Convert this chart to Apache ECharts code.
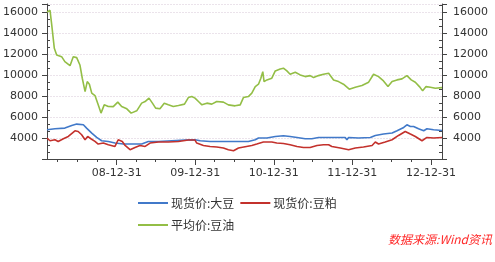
<!DOCTYPE html>
<html><head><meta charset="utf-8">
<script src="https://cdn.jsdelivr.net/npm/echarts@6/dist/echarts.min.js"></script>
<style>html,body{margin:0;padding:0;background:#fff}#c{width:495px;height:262px}</style>
</head><body><div id="c"></div>
<script>
// 现货价:大豆
const soyDates = ['2008-02-11','2008-03-19','2008-05-04','2008-06-05','2008-06-28','2008-07-29','2008-08-13','2008-09-06','2008-09-29','2008-10-22','2008-11-22','2008-12-23','2009-01-31','2009-03-11','2009-04-26','2009-05-27','2009-07-13','2009-09-13','2009-11-14','2009-12-30','2010-01-23','2010-03-10','2010-05-11','2010-07-12','2010-09-04','2010-10-06','2010-10-21','2010-11-29','2011-01-07','2011-02-14','2011-03-17','2011-04-18','2011-05-26','2011-06-26','2011-07-27','2011-09-12','2011-10-13','2011-11-28','2011-12-06','2011-12-14','2012-01-29','2012-03-24','2012-04-16','2012-05-24','2012-07-03','2012-07-26','2012-08-26','2012-09-10','2012-09-26','2012-10-11','2012-11-03','2012-11-27','2012-12-12','2013-01-12','2013-02-20'];
const soyValues = [4790,4886,4952,5200,5333,5267,4952,4476,4057,3743,3676,3524,3429,3429,3429,3676,3676,3743,3810,3838,3743,3676,3676,3676,3676,3838,4000,4000,4152,4219,4152,4057,3933,3933,4057,4057,4057,4057,3838,4057,4000,4057,4248,4381,4476,4695,5010,5267,5105,5105,4886,4695,4886,4790,4724];
// 现货价:豆粕
const mealDates = ['2008-02-11','2008-02-25','2008-03-19','2008-04-03','2008-04-27','2008-05-20','2008-06-20','2008-07-05','2008-07-21','2008-08-06','2008-08-18','2008-09-02','2008-09-21','2008-10-06','2008-10-30','2008-11-22','2008-12-23','2009-01-07','2009-01-26','2009-02-08','2009-03-03','2009-03-26','2009-04-18','2009-05-12','2009-06-04','2009-07-13','2009-08-28','2009-10-14','2009-11-29','2009-12-30','2010-01-07','2010-02-07','2010-03-10','2010-04-10','2010-05-11','2010-06-03','2010-06-27','2010-07-20','2010-08-20','2010-09-20','2010-10-13','2010-11-13','2010-12-22','2011-01-14','2011-02-14','2011-03-17','2011-04-18','2011-05-18','2011-06-18','2011-07-20','2011-08-19','2011-09-12','2011-09-27','2011-11-05','2011-12-14','2012-01-14','2012-02-21','2012-04-01','2012-04-16','2012-05-01','2012-06-01','2012-07-03','2012-08-02','2012-09-02','2012-09-26','2012-10-19','2012-11-19','2012-12-12','2013-01-12','2013-02-20'];
const mealValues = [4000,3743,3838,3676,3933,4152,4695,4629,4314,3838,4152,3933,3676,3429,3524,3362,3200,3838,3676,3295,2886,3105,3295,3200,3524,3619,3619,3676,3810,3810,3524,3295,3200,3143,3048,2886,2790,3048,3171,3295,3429,3619,3619,3524,3486,3362,3200,3105,3105,3295,3362,3362,3200,3048,2886,3048,3143,3295,3619,3429,3619,3838,4248,4629,4381,4152,3743,4057,4000,4057];
// 平均价:豆油
const oilDates = ['2008-02-11','2008-02-25','2008-03-04','2008-03-11','2008-03-16','2008-03-27','2008-04-19','2008-05-04','2008-05-28','2008-06-12','2008-06-28','2008-07-13','2008-07-24','2008-08-06','2008-08-16','2008-08-26','2008-09-06','2008-09-21','2008-10-06','2008-10-19','2008-11-03','2008-11-22','2008-12-15','2009-01-05','2009-01-23','2009-02-16','2009-03-08','2009-04-03','2009-04-26','2009-05-12','2009-05-30','2009-06-15','2009-06-30','2009-07-20','2009-08-09','2009-08-28','2009-09-20','2009-10-14','2009-11-11','2009-11-29','2009-12-15','2009-12-30','2010-01-15','2010-01-31','2010-02-23','2010-03-18','2010-04-10','2010-05-11','2010-06-03','2010-07-04','2010-07-28','2010-08-12','2010-09-04','2010-09-20','2010-10-06','2010-10-21','2010-11-01','2010-11-10','2010-11-16','2010-11-29','2010-12-22','2011-01-07','2011-01-30','2011-02-14','2011-03-02','2011-03-17','2011-04-10','2011-05-03','2011-05-26','2011-06-18','2011-07-04','2011-07-27','2011-08-19','2011-09-12','2011-10-05','2011-10-28','2011-11-20','2011-12-17','2012-01-14','2012-02-14','2012-03-16','2012-04-08','2012-05-01','2012-05-24','2012-06-14','2012-07-03','2012-07-26','2012-08-18','2012-09-10','2012-09-30','2012-10-19','2012-11-07','2012-11-22','2012-12-08','2012-12-28','2013-01-20','2013-02-20'];
const oilValues = [16030,16200,14800,13500,12570,11930,11770,11300,10910,11770,11680,10980,9710,8440,9390,9140,8286,8057,7171,6381,7170,7010,7000,7430,7010,6790,6381,6600,7333,7486,7810,7333,6857,6790,7333,7171,7010,7105,7238,7867,7962,7810,7486,7171,7333,7238,7486,7429,7171,7076,7171,7867,7962,8286,8914,9143,9714,10343,9391,9552,9714,10410,10600,10667,10410,10095,10286,10029,9867,9962,9771,9962,10095,10191,9552,9391,9143,8667,8857,9010,9333,10095,9867,9457,8914,9391,9552,9648,9962,9552,9333,8914,8505,8914,8857,8762,8819];

const seriesNames = ['现货价:大豆','现货价:豆粕','平均价:豆油'];
const xTickDates = ['2008-12-31','2009-12-31','2010-12-31','2011-12-31','2012-12-31'];
const xTickLabels = ['08-12-31','09-12-31','10-12-31','11-12-31','12-12-31'];
const xMinorDates = ['2008-03-31','2008-06-30','2008-09-30','2009-03-31','2009-06-30','2009-09-30','2010-03-31','2010-06-30','2010-09-30','2011-03-31','2011-06-30','2011-09-30','2012-03-31','2012-06-30','2012-09-30'];
const xRange = ['2008-02-11','2013-02-20'];
const yRange = [2000, 16800];
const yStep = 2000;

const ts = s => Date.parse(s + 'T00:00:00Z');
const pairs = (d, v) => d.map((s, i) => [ts(s), v[i]]);
const xMajor = xTickDates.map(ts);
const xMinor = xMinorDates.map(ts);
const yMinor = [];
for (let v = yRange[0]; v < yRange[1]; v += yStep) {
  [v + yStep / 3, v + 2 * yStep / 3].forEach(m => { if (m < yRange[1]) yMinor.push(m); });
}
const axisColor = '#444';
const labelFont = { fontSize: 11, color: '#333', fontFamily: 'DejaVu Sans' };

const yMain = (pos, margin, split) => ({
  type: 'value', position: pos, min: yRange[0], max: yRange[1], interval: yStep,
  axisLine: { show: true, lineStyle: { color: axisColor, width: 1 } },
  axisTick: { show: true, length: 5, lineStyle: { color: axisColor } },
  axisLabel: Object.assign({ margin: margin, formatter: v => (v % yStep === 0 && v > yRange[0]) ? String(v) : '' }, labelFont),
  splitLine: { show: split, lineStyle: { color: '#ebe3eb', width: 1, type: [2, 1] } }
});
const yOver = (pos) => ({
  type: 'value', position: pos, min: yRange[0], max: yRange[1],
  axisLine: { show: false },
  axisTick: { show: true, inside: true, length: 3, customValues: yMinor, lineStyle: { color: axisColor } },
  axisLabel: { show: false }, splitLine: { show: false }
});

const colors = ['#4179c9', '#c3312c', '#93be46'];
const chart = echarts.init(document.getElementById('c'));
chart.setOption({
  animation: false,
  color: colors,
  grid: { left: 47, right: 53, top: 4, bottom: 103 },
  xAxis: [
    { type: 'value', position: 'bottom', min: ts(xRange[0]), max: ts(xRange[1]),
      axisLine: { lineStyle: { color: axisColor, width: 1 } },
      axisTick: { show: true, length: 6, customValues: xMajor, lineStyle: { color: axisColor } },
      axisLabel: Object.assign({ margin: 9, customValues: xMajor,
        formatter: v => { let bi = 0, bd = Infinity; xMajor.forEach((m, i) => { const d = Math.abs(m - v); if (d < bd) { bd = d; bi = i; } }); return xTickLabels[bi]; } }, labelFont),
      splitLine: { show: false } },
    { type: 'value', position: 'bottom', min: ts(xRange[0]), max: ts(xRange[1]),
      axisLine: { show: false },
      axisTick: { show: true, length: 3, customValues: xMinor, lineStyle: { color: axisColor } },
      axisLabel: { show: false }, splitLine: { show: false } }
  ],
  yAxis: [yMain('left', 9, true), yMain('right', 11, false), yOver('left'), yOver('right')],
  legend: {
    data: seriesNames, left: 133, top: 190, width: 230, orient: 'horizontal',
    icon: 'rect', itemWidth: 30, itemHeight: 2, itemGap: 6,
    textStyle: { fontSize: 12, color: '#333', lineHeight: 16, fontFamily: 'Noto Sans CJK SC', padding: [0, 0, 0, -2] }
  },
  graphic: [{ type: 'text', right: 3, top: 233, style: { text: '数据来源:Wind资讯', fill: '#ff2a2a', font: 'italic 12px "Noto Sans CJK SC"' } }],
  series: [
    { name: seriesNames[0], type: 'line', data: pairs(soyDates, soyValues), showSymbol: false, lineStyle: { width: 1.6 } },
    { name: seriesNames[1], type: 'line', data: pairs(mealDates, mealValues), showSymbol: false, lineStyle: { width: 1.6 } },
    { name: seriesNames[2], type: 'line', data: pairs(oilDates, oilValues), showSymbol: false, lineStyle: { width: 1.6 } }
  ]
});
</script></body></html>
